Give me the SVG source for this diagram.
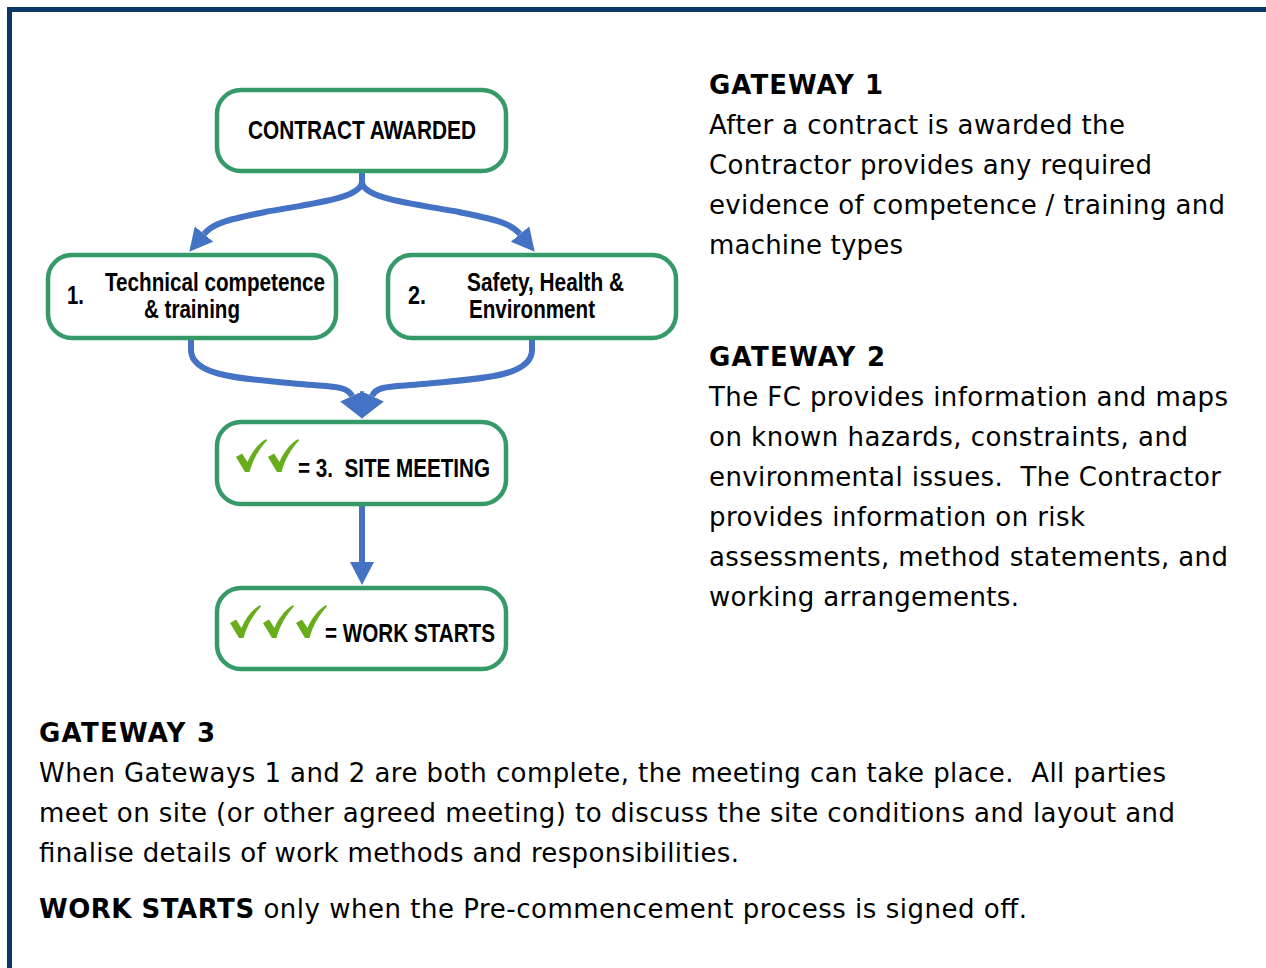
<svg xmlns="http://www.w3.org/2000/svg" width="1266" height="968" viewBox="0 0 1266 968">
  <style>
    .box { fill: #ffffff; stroke: #369a68; stroke-width: 4.5; }
    .lbl { font-family: "Liberation Sans", Arial, sans-serif; font-weight: bold; font-size: 25px; fill: #000; }
    .body { font-family: "DejaVu Sans", Verdana, sans-serif; font-size: 26px; fill: #000; }
    .hd { font-weight: bold; }
    .conn { fill: none; stroke: #4472c4; stroke-width: 6; stroke-linecap: butt; }
    .chk { fill: #67ad1c; }
  </style>
  <defs>
    <marker id="arr" markerUnits="userSpaceOnUse" viewBox="0 0 23 24" markerWidth="23" markerHeight="24" refX="0" refY="12" orient="auto">
      <path d="M0,0 L23,12 L0,24 Z" fill="#4472c4"/>
    </marker>
    <marker id="arrbig" markerUnits="userSpaceOnUse" viewBox="0 0 25 26" markerWidth="25" markerHeight="26" refX="0" refY="13" orient="auto">
      <path d="M0,0 L25,13 L0,26 Z" fill="#4472c4"/>
    </marker>
    <path id="tick" d="M0,18 L6,14.5 L11.5,23 C15.5,13 22,5 30,0 L31,1.5 C23.5,9.5 17,20 13.5,33 L9,33 Z"/>
  </defs>

  <!-- frame -->
  <rect x="7" y="7" width="1259" height="5" fill="#0b3866"/>
  <rect x="7" y="7" width="5" height="961" fill="#0b3866"/>

  <!-- connectors -->
  <g id="connectors">
    <path class="conn" d="M362,172 L362,182 C361,198 315,203 265,212 C232,219 214,222 204,234" marker-end="url(#arr)"/>
    <path class="conn" d="M362,172 L362,182 C363,198 409,203 459,212 C492,219 510,222 520,234" marker-end="url(#arr)"/>
    <path class="conn" d="M191,338 L191,350 C191,378 250,379 300,384 C330,387 347,385 352,396" marker-end="url(#arrbig)"/>
    <path class="conn" d="M532,338 L532,350 C532,378 473,379 423,384 C393,387 377,385 372,396" marker-end="url(#arrbig)"/>
    <path class="conn" d="M362,504 L362,562" marker-end="url(#arr)"/>
  </g>

  <g id="contract-awarded">
    <rect class="box" x="217" y="90" width="289" height="81" rx="24"/>
    <text class="lbl" x="248" y="139" textLength="228" lengthAdjust="spacingAndGlyphs">CONTRACT AWARDED</text>
  </g>

  <g id="technical-competence">
    <rect class="box" x="48" y="255" width="288" height="83" rx="24"/>
    <text class="lbl" x="67" y="304" textLength="17" lengthAdjust="spacingAndGlyphs">1.</text>
    <text class="lbl" x="105" y="291" textLength="220" lengthAdjust="spacingAndGlyphs">Technical competence</text>
    <text class="lbl" x="144" y="318" textLength="96" lengthAdjust="spacingAndGlyphs">&amp; training</text>
  </g>

  <g id="safety-health-environment">
    <rect class="box" x="388" y="255" width="288" height="83" rx="24"/>
    <text class="lbl" x="408" y="304" textLength="18" lengthAdjust="spacingAndGlyphs">2.</text>
    <text class="lbl" x="467" y="291" textLength="157" lengthAdjust="spacingAndGlyphs">Safety, Health &amp;</text>
    <text class="lbl" x="469" y="318" textLength="126" lengthAdjust="spacingAndGlyphs">Environment</text>
  </g>

  <g id="site-meeting">
    <rect class="box" x="217" y="422" width="289" height="82" rx="24"/>
    <use href="#tick" class="chk" x="236" y="439"/>
    <use href="#tick" class="chk" x="268" y="439"/>
    <text class="lbl" x="298" y="477" textLength="192" lengthAdjust="spacingAndGlyphs" xml:space="preserve">= 3.  SITE MEETING</text>
  </g>

  <g id="work-starts">
    <rect class="box" x="217" y="588" width="289" height="81" rx="24"/>
    <use href="#tick" class="chk" x="230" y="605"/>
    <use href="#tick" class="chk" x="263" y="605"/>
    <use href="#tick" class="chk" x="296" y="605"/>
    <text class="lbl" x="325" y="642" textLength="170" lengthAdjust="spacingAndGlyphs">= WORK STARTS</text>
  </g>

  <g id="gateway-1-text" class="body">
    <text class="hd" x="709" y="94" textLength="174">GATEWAY 1</text>
    <text x="709" y="134" textLength="416">After a contract is awarded the</text>
    <text x="709" y="174" textLength="443">Contractor provides any required</text>
    <text x="709" y="214" textLength="516">evidence of competence / training and</text>
    <text x="709" y="254" textLength="194">machine types</text>
  </g>

  <g id="gateway-2-text" class="body">
    <text class="hd" x="709" y="366" textLength="176">GATEWAY 2</text>
    <text x="709" y="406" textLength="519">The FC provides information and maps</text>
    <text x="709" y="446" textLength="479">on known hazards, constraints, and</text>
    <text x="709" y="486" textLength="512" xml:space="preserve">environmental issues.  The Contractor</text>
    <text x="709" y="526" textLength="376">provides information on risk</text>
    <text x="709" y="566" textLength="519">assessments, method statements, and</text>
    <text x="709" y="606" textLength="310">working arrangements.</text>
  </g>

  <g id="gateway-3-text" class="body">
    <text class="hd" x="39" y="742" textLength="176">GATEWAY 3</text>
    <text x="39" y="782" textLength="1127" xml:space="preserve">When Gateways 1 and 2 are both complete, the meeting can take place.  All parties</text>
    <text x="39" y="822" textLength="1136">meet on site (or other agreed meeting) to discuss the site conditions and layout and</text>
    <text x="39" y="862" textLength="700">finalise details of work methods and responsibilities.</text>
    <text x="39" y="918" textLength="988"><tspan class="hd">WORK STARTS</tspan> only when the Pre-commencement process is signed off.</text>
  </g>
</svg>
